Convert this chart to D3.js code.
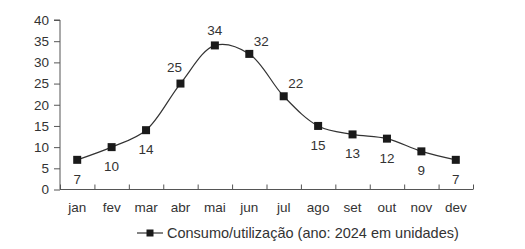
<!DOCTYPE html>
<html>
<head>
<meta charset="utf-8">
<script src="https://cdn.jsdelivr.net/npm/d3@7"></script>
<style>
  body { margin: 0; background: #fff; }
  svg text { font-family: "Liberation Sans", Arial, sans-serif; fill: #333; }
</style>
</head>
<body>
<svg class="canvas" width="525" height="249"></svg>
<script>
'use strict';

const months = ['jan', 'fev', 'mar', 'abr', 'mai', 'jun', 'jul', 'ago', 'set', 'out', 'nov', 'dev'];
const consumo = [7, 10, 14, 25, 34, 32, 22, 15, 13, 12, 9, 7];
const yTicks = [0, 5, 10, 15, 20, 25, 30, 35, 40];
// where each value label sits relative to its marker
const labelSide = ['below', 'below', 'below', 'upleft', 'above', 'upright', 'upright', 'below', 'below', 'below', 'below', 'below'];
const seriesName = 'Consumo/utilização (ano: 2024 em unidades)';

const svg = d3.select('.canvas'),
  plotLeft = 60,
  plotRight = 473,
  plotTop = 20,
  plotBottom = 189.5,
  ink = '#333';

const x = d3.scaleBand().domain(months).range([plotLeft, plotRight]);
const xEdges = d3.scaleLinear().domain([0, months.length]).range([plotLeft, plotRight]);
const y = d3.scaleLinear().domain([0, 40]).range([plotBottom, plotTop]);

// y axis
const yAxis = svg.append('g')
  .attr('transform', `translate(${plotLeft},0)`)
  .call(d3.axisLeft(y).tickValues(yTicks).tickSize(6).tickPadding(5));
yAxis.select('.domain').attr('d', `M-6,${plotTop}H0V${plotBottom}`);

// x axis: labels at month centres, tick marks at the band edges
const xAxis = svg.append('g')
  .attr('transform', `translate(0,${plotBottom})`)
  .call(d3.axisBottom(x).tickSize(0).tickPadding(13));
xAxis.select('.domain').remove();
const xTicks = svg.append('g')
  .attr('transform', `translate(0,${plotBottom})`)
  .call(d3.axisBottom(xEdges).ticks(12).tickSize(-5).tickFormat(''));
xTicks.select('.domain').attr('d', `M${plotLeft},0H${plotRight}`);

svg.selectAll('.domain, .tick line').attr('stroke', '#555').attr('stroke-width', 1);
svg.selectAll('.tick text').style('font-size', '13.5px').attr('fill', ink);

const cx = (d, i) => x(months[i]) + x.bandwidth() / 2;

const line = d3.line()
  .x(cx)
  .y(d => y(d))
  .curve(d3.curveCatmullRom);

svg.append('path')
  .datum(consumo)
  .attr('d', line)
  .attr('fill', 'none')
  .attr('stroke', ink)
  .attr('stroke-width', 1.2);

const m = 8;
svg.selectAll('.marker')
  .data(consumo)
  .enter()
  .append('rect')
  .attr('class', 'marker')
  .attr('x', (d, i) => cx(d, i) - m / 2)
  .attr('y', d => y(d) - m / 2)
  .attr('width', m)
  .attr('height', m)
  .attr('fill', '#1a1a1a');

const offsets = {
  below: [0, 24],
  above: [0, -10],
  upleft: [-6, -12],
  upright: [12, -8]
};
svg.selectAll('.value')
  .data(consumo)
  .enter()
  .append('text')
  .attr('class', 'value')
  .attr('x', (d, i) => cx(d, i) + offsets[labelSide[i]][0])
  .attr('y', (d, i) => y(d) + offsets[labelSide[i]][1])
  .attr('text-anchor', 'middle')
  .style('font-size', '13.5px')
  .text(d => d);

// legend
const legend = svg.append('g').attr('transform', 'translate(137,233)');
legend.append('line')
  .attr('x1', 0).attr('x2', 26)
  .attr('stroke', ink).attr('stroke-width', 1.2);
legend.append('rect')
  .attr('x', 9.5).attr('y', -3.5)
  .attr('width', 7).attr('height', 7)
  .attr('fill', '#1a1a1a');
legend.append('text')
  .attr('x', 30)
  .attr('y', 5)
  .style('font-size', '14.5px')
  .text(seriesName);
</script>
</body>
</html>
